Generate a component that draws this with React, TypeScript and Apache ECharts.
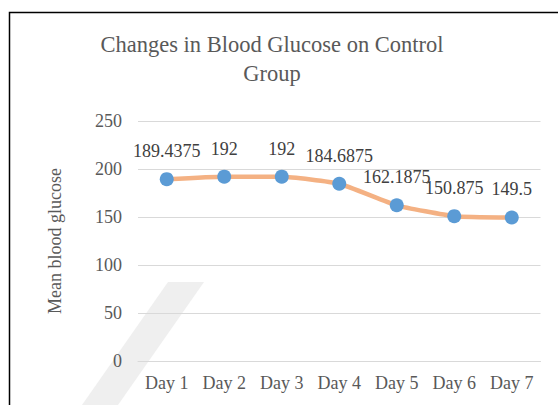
import React, { useEffect, useRef } from "react";
import * as echarts from "echarts";

const titleText = "Changes in Blood Glucose on Control\nGroup";
const yAxisName = "Mean blood glucose";
const categories = ["Day 1", "Day 2", "Day 3", "Day 4", "Day 5", "Day 6", "Day 7"];
const glucoseValues = [189.4375, 192, 192, 184.6875, 162.1875, 150.875, 149.5];
const yTicks = { min: 0, max: 250, interval: 50 };

const FONT = "Times New Roman, Liberation Serif, DejaVu Serif, serif";
const TEXT = "#595959";
const WM = "#EFEFEF";

export default function App() {
  const ref = useRef<HTMLDivElement>(null);
  useEffect(() => {
    if (!ref.current) return;
    const chart = echarts.init(ref.current, null, { renderer: "svg" });
    chart.setOption({
      animation: false,
      backgroundColor: "#ffffff",
      textStyle: { fontFamily: FONT },
      title: {
        text: titleText,
        left: 267,
        top: 25,
        textAlign: "center",
        textStyle: {
          fontFamily: FONT,
          fontSize: 22.5,
          fontWeight: "normal",
          color: TEXT,
          lineHeight: 29,
        },
      },
      graphic: [
        {
          type: "polygon",
          z: -10,
          silent: true,
          shape: { points: [[168, 282], [204, 282], [118, 405], [82, 405]] },
          style: { fill: WM },
        },
        {
          type: "polyline",
          z: 10,
          silent: true,
          shape: { points: [[9.5, 405], [9.5, 12.5], [558, 12.5]] },
          style: { stroke: "#000000", lineWidth: 1.5, fill: "none" },
        },
      ],
      grid: { left: 138, right: 17.5, top: 121, bottom: 44, containLabel: false },
      xAxis: {
        type: "category",
        data: categories,
        boundaryGap: true,
        axisLine: { show: true, lineStyle: { color: "#D9D9D9", width: 1 } },
        axisTick: { show: false },
        axisLabel: { color: TEXT, fontFamily: FONT, fontSize: 18, margin: 13 },
      },
      yAxis: {
        type: "value",
        min: yTicks.min,
        max: yTicks.max,
        interval: yTicks.interval,
        name: yAxisName,
        nameLocation: "middle",
        nameGap: 74,
        nameRotate: 90,
        nameTextStyle: { color: TEXT, fontFamily: FONT, fontSize: 18 },
        axisLine: { show: false },
        axisTick: { show: false },
        axisLabel: { color: TEXT, fontFamily: FONT, fontSize: 18, margin: 16 },
        splitLine: { lineStyle: { color: "#D9D9D9", width: 1 } },
      },
      series: [
        {
          type: "line",
          data: glucoseValues,
          smooth: 0.15,
          symbol: "circle",
          symbolSize: 14,
          lineStyle: { color: "#F4B183", width: 4.5 },
          itemStyle: { color: "#5B9BD5", borderWidth: 0 },
          label: {
            show: true,
            position: "top",
            distance: 12,
            color: "#404040",
            fontFamily: FONT,
            fontSize: 18,
          },
        },
      ],
    });
    return () => chart.dispose();
  }, []);
  return (
    <div
      ref={ref}
      style={{ position: "absolute", left: 0, top: 0, width: 558, height: 405 }}
    />
  );
}
